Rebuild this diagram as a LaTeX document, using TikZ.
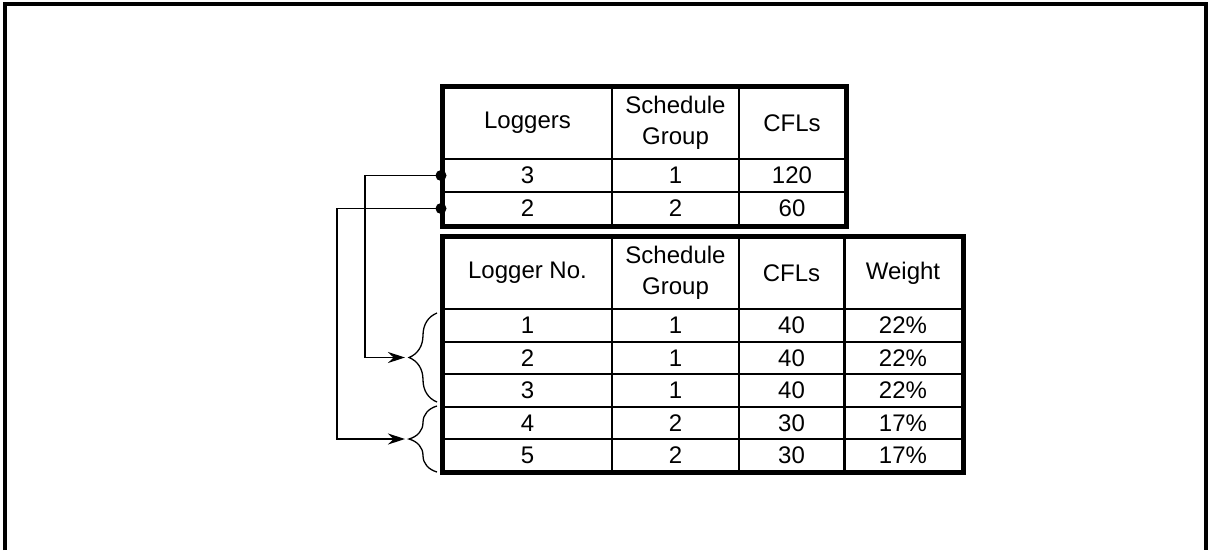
\documentclass[tikz,border=0pt]{standalone}
\usepackage{fontspec}
\setmainfont{Liberation Sans}
\usetikzlibrary{arrows.meta,decorations.pathreplacing}

\tikzset{
  cell/.style={draw,line width=2pt,inner sep=0pt,align=center,
    font=\fontsize{24}{31}\selectfont},
  hd/.style={cell,minimum height=72pt},
  rw/.style={cell,minimum height=33pt},
  rb/.style={cell,minimum height=32.5pt},
  ca/.style={minimum width=169pt},
  cb/.style={minimum width=127pt},
  cc/.style={minimum width=106pt},
  cd/.style={minimum width=118pt},
  dot/.style={circle,fill=black,inner sep=0pt,minimum size=11pt},
  link/.style={line width=1.3pt,-{Stealth[length=17pt,width=11pt]}},
  grp/.style={line width=1.3pt,decorate,decoration={brace,amplitude=28pt}}
}

\begin{document}
\begin{tikzpicture}[x=1pt,y=-1pt]
\useasboundingbox (0,0) rectangle (1209,550);
\draw[line width=4pt] (5,550) -- (5,4) -- (1206,4) -- (1206,550);

% top table
\node[hd,ca] (l0) at (527.5,123) {Loggers};
\node[hd,cb] (s0) at (675.5,123) {Schedule\\Group};
\node[hd,cc] (c0) at (792,123) {CFLs};
\node[rw,ca] (l1) at (527.5,175.5) {3};
\node[rw,cb] (s1) at (675.5,175.5) {1};
\node[rw,cc] (c1) at (792,175.5) {120};
\node[rw,ca] (l2) at (527.5,208.5) {2};
\node[rw,cb] (s2) at (675.5,208.5) {2};
\node[rw,cc] (c2) at (792,208.5) {60};
\draw[line width=5pt] (l0.north west) rectangle (c2.south east);

% bottom table
\node[hd,ca] (n0) at (527.5,273) {Logger No.};
\node[hd,cb] (g0) at (675.5,273) {Schedule\\Group};
\node[hd,cc] (f0) at (791.5,273) {CFLs};
\node[hd,cd] (w0) at (903,273) {Weight};
\node[rb,ca] (n1) at (527.5,325.25) {1};
\node[rb,cb] (g1) at (675.5,325.25) {1};
\node[rb,cc] (f1) at (791.5,325.25) {40};
\node[rb,cd] (w1) at (903,325.25) {22\%};
\node[rb,ca] (n2) at (527.5,357.75) {2};
\node[rb,cb] (g2) at (675.5,357.75) {1};
\node[rb,cc] (f2) at (791.5,357.75) {40};
\node[rb,cd] (w2) at (903,357.75) {22\%};
\node[rb,ca] (n3) at (527.5,390.25) {3};
\node[rb,cb] (g3) at (675.5,390.25) {1};
\node[rb,cc] (f3) at (791.5,390.25) {40};
\node[rb,cd] (w3) at (903,390.25) {22\%};
\node[rb,ca] (n4) at (527.5,422.75) {4};
\node[rb,cb] (g4) at (675.5,422.75) {2};
\node[rb,cc] (f4) at (791.5,422.75) {30};
\node[rb,cd] (w4) at (903,422.75) {17\%};
\node[rb,ca] (n5) at (527.5,455.25) {5};
\node[rb,cb] (g5) at (675.5,455.25) {2};
\node[rb,cc] (f5) at (791.5,455.25) {30};
\node[rb,cd] (w5) at (903,455.25) {17\%};
\draw[line width=5pt] (n0.north west) rectangle (w5.south east);

% braces and links
\draw[grp] (437,402) -- (437,313);
\draw[grp] (437,472) -- (437,406);
\coordinate (tip1) at (405,357.5);
\coordinate (tip2) at (405,439);
\node[dot] (dot1) at (441,175.5) {};
\node[dot] (dot2) at (441,208.5) {};
\draw[link] (dot1.center) -- ++(-76,0) |- (tip1);
\draw[link] (dot2.center) -- ++(-104,0) |- (tip2);
\end{tikzpicture}
\end{document}
